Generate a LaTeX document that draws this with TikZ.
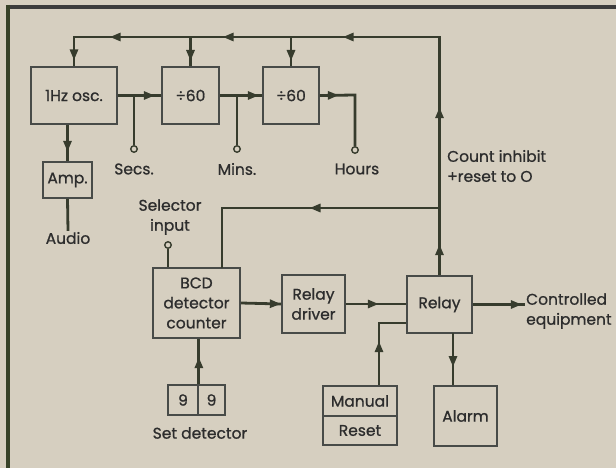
\documentclass[tikz,border=0pt]{standalone}
\usepackage{fontspec}
\setmainfont{Poppins}[FakeBold=0.9]
\usetikzlibrary{arrows.meta,decorations.markings}
\definecolor{bg}{RGB}{214,207,192}
\definecolor{ln}{RGB}{55,60,45}
\definecolor{bx}{RGB}{72,75,72}
\definecolor{tx}{RGB}{45,45,45}
\definecolor{topb}{RGB}{60,60,60}
\definecolor{leftb}{RGB}{55,66,40}
\begin{document}
\begin{tikzpicture}[x=1pt,y=-1pt,
  font=\fontsize{15.5}{20}\selectfont,
  blk/.style={draw=bx,line width=1.7pt,fill=bg,inner sep=0pt,align=center,text=tx},
  lbl/.style={inner sep=1pt,align=center,text=tx},
  circ/.style={circle,draw=ln,line width=1.4pt,fill=bg,inner sep=0pt,minimum size=6.5pt},
  conn/.style={draw=ln,line width=2.8pt},
  ma/.style={postaction={decorate,decoration={markings,mark=at position #1 with {\arrow{Triangle[length=11pt,width=8pt]}}}}},
  ]
\useasboundingbox (0,0) rectangle (616,468);
\fill[bg] (0,0) rectangle (616,468);
\draw[topb,line width=4pt] (6,7) -- (616,7);
\draw[leftb,line width=3.5pt] (8,5) -- (8,468);

% blocks
\node[blk,minimum width=86pt,minimum height=57pt] (osc) at (74,95.5) {1Hz osc.};
\node[blk,minimum width=57pt,minimum height=57pt] (d1) at (190.5,95.5) {÷60};
\node[blk,minimum width=56pt,minimum height=57pt] (d2) at (291,95.5) {÷60};
\node[blk,minimum width=49pt,minimum height=36pt] (amp) at (67.5,180) {Amp.};
\node[blk,minimum width=87pt,minimum height=70pt] (bcd) at (196.5,303) {BCD\\detector\\counter};
\node[blk,minimum width=63pt,minimum height=58pt] (drv) at (313.5,304) {Relay\\driver};
\node[blk,minimum width=65pt,minimum height=57pt] (relay) at (439.5,304.5) {Relay};
\node[blk,minimum width=74pt,minimum height=30pt] (man) at (360,401) {Manual};
\node[blk,minimum width=74pt,minimum height=29pt] (rst) at (360,430.5) {Reset};
\node[blk,minimum width=63pt,minimum height=60pt] (alarm) at (465.5,416) {Alarm};
\node[blk,minimum width=30pt,minimum height=30pt] (n1) at (183,400) {9};
\node[blk,minimum width=27pt,minimum height=30pt] (n2) at (211.5,400) {9};

% terminals
\node[circ] (sc) at (134,149) {};
\node[circ] (mc) at (237,149) {};
\node[circ] (hc) at (355,150) {};
\node[circ] (selc) at (168,245) {};

% labels
\node[lbl] (secs) at (134,169) {Secs.};
\node[lbl] (mins) at (237,169) {Mins.};
\node[lbl] (hours) at (357,169) {Hours};
\node[lbl] (audio) at (68,238) {Audio};
\node[lbl] (sel) at (170,217) {Selector\\input};
\node[lbl,anchor=west,align=left] (ci) at (446,166) {Count inhibit\\+reset to O};
\node[lbl,anchor=west,align=left] (ce) at (525,311) {Controlled\\equipment};
\node[lbl] (setd) at (200,433) {Set detector};

% coordinates
\coordinate (bus) at (0,37);
\coordinate (fb2) at (0,208);
\coordinate (bcdin) at (222,268);
\coordinate (st) at (134,95);
\coordinate (mt) at (237,95);
\coordinate (hk) at (355,95);
\coordinate (mk) at (379,323);

% connectors
\draw[conn,ma=31pt,ma=168pt,ma=335pt,ma=455pt,ma=568pt,ma=627pt]
  (relay.north) -- (relay.north |- bus) -- (osc.north |- bus) -- (osc.north);
\draw[conn,ma=24pt] (d1.north |- bus) -- (d1.north);
\draw[conn,ma=24pt] (d2.north |- bus) -- (d2.north);
\draw[conn,ma=130pt] (relay.north |- fb2) -- (bcdin |- fb2) -- (bcdin);
\draw[conn,ma=37pt] (osc.east) -- (d1.west);
\draw[conn] (st) -- (sc.north);
\draw[conn,ma=39pt] (d1.east) -- (d2.west);
\draw[conn] (mt) -- (mc.north);
\draw[conn,ma=19pt] (d2.east) -- (hk) -- (hc.north);
\draw[conn,ma=27pt] (amp.north |- osc.south) -- (amp.north);
\draw[conn] (amp.south) -- (audio.north);
\draw[conn,ma=21pt] (selc.south) -- (selc.south |- bcd.north);
\draw[conn,ma=40pt] (bcd.east) -- (drv.west);
\draw[conn,ma=33pt] (drv.east) -- (relay.west |- drv.east);
\draw[conn,ma=49pt] (relay.east) -- (ce.west |- relay.east);
\draw[conn,ma=34pt] (453,333) -- (alarm.north -| 453,0);
\draw[conn,ma=44pt] (man.north -| mk) -- (mk) -- (relay.west |- mk);
\draw[conn,ma=27pt] (n1.north east) -- (n1.north east |- bcd.south);
\end{tikzpicture}
\end{document}
